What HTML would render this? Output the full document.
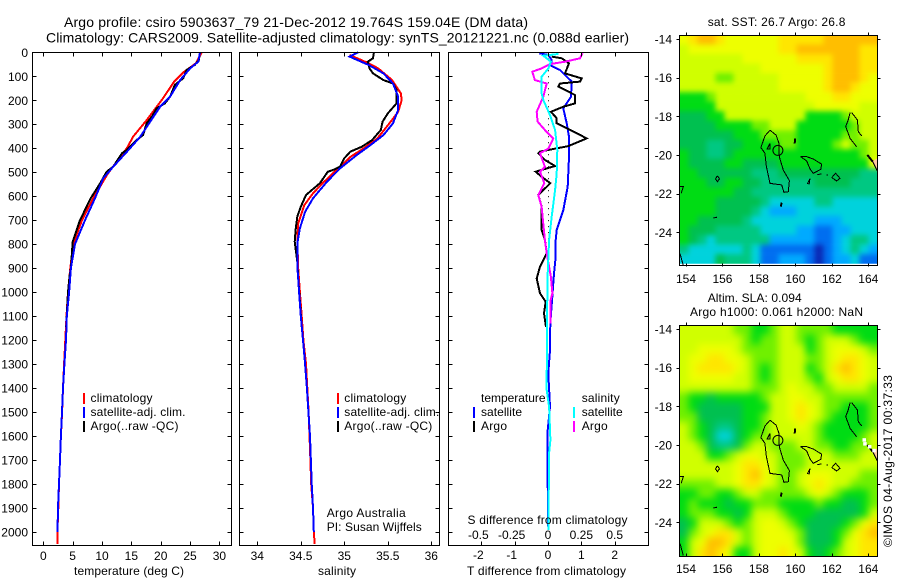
<!DOCTYPE html>
<html lang="en">
<head>
<meta charset="utf-8">
<title>Argo profile csiro 5903637_79</title>
<style>
html,body{margin:0;padding:0;background:#fff;}
svg{display:block;}
text{font-family:"Liberation Sans",sans-serif;font-size:12px;fill:#000;}
.title{font-size:14px;}
.frame{fill:none;stroke:#000;stroke-width:1;shape-rendering:crispEdges;}
</style>
</head>
<body>
<svg id="chart" xmlns="http://www.w3.org/2000/svg" width="900" height="580" viewBox="0 0 900 580">
  <defs>
    <filter id="sstSmooth" color-interpolation-filters="sRGB"><feGaussianBlur stdDeviation="2.6"/></filter>
    <filter id="slaSmooth" color-interpolation-filters="sRGB"><feGaussianBlur stdDeviation="4"/></filter>
    <clipPath id="map1Clip"><rect x="679.5" y="35.5" width="198" height="228.2"/></clipPath>
    <clipPath id="map2Clip"><rect x="679.5" y="325.5" width="198" height="231"/></clipPath>
  </defs>
  <rect x="0" y="0" width="900" height="580" fill="#fff"/>
  <text class="title" x="64" y="27" textLength="464">Argo profile: csiro 5903637_79 21-Dec-2012 19.764S 159.04E (DM data)</text>
  <text class="title" x="46" y="42.5" textLength="583">Climatology: CARS2009. Satellite-adjusted climatology: synTS_20121221.nc (0.088d earlier)</text>

  <g id="map1"></g>
  <g id="map2"></g>
  <g id="p1"></g>
  <g id="p2"></g>
  <g id="p3"></g>

  <rect class="frame" x="32.5" y="52.5" width="199" height="493"/>
  <rect class="frame" x="239.5" y="52.5" width="200" height="493"/>
  <rect class="frame" x="448.5" y="52.5" width="200" height="493"/>
  <rect class="frame" x="679.5" y="35.5" width="198" height="230"/>
  <rect class="frame" x="679.5" y="325.5" width="198" height="231"/>

  <text x="74" y="575" textLength="110">temperature (deg C)</text>
  <text x="318" y="575" textLength="38">salinity</text>
  <text x="467.5" y="524" textLength="160">S difference from climatology</text>
  <text x="467" y="575" textLength="159">T difference from climatology</text>

  <g>
    <rect x="83" y="393" width="2" height="11" fill="#f00"/>
    <text x="90.5" y="402" textLength="62">climatology</text>
    <rect x="83" y="407" width="2" height="11" fill="#00f"/>
    <text x="90.5" y="416" textLength="95">satellite-adj. clim.</text>
    <rect x="83" y="421" width="2" height="11" fill="#000"/>
    <text x="90.5" y="430" textLength="88">Argo(..raw -QC)</text>
  </g>
  <g>
    <rect x="337" y="393" width="2" height="11" fill="#f00"/>
    <text x="344.3" y="402" textLength="62">climatology</text>
    <rect x="337" y="407" width="2" height="11" fill="#00f"/>
    <text x="344.3" y="416" textLength="95">satellite-adj. clim.</text>
    <rect x="337" y="421" width="2" height="11" fill="#000"/>
    <text x="344.3" y="430" textLength="88">Argo(..raw -QC)</text>
  </g>
  <text x="326.7" y="517" textLength="79">Argo Australia</text>
  <text x="326.7" y="531" textLength="95">PI: Susan Wijffels</text>

  <g>
    <text x="481" y="402" textLength="64.5">temperature</text>
    <text x="581.7" y="402" textLength="38">salinity</text>
    <rect x="473" y="407" width="2" height="11" fill="#00f"/>
    <text x="481" y="416" textLength="41">satellite</text>
    <rect x="573" y="407" width="2" height="11" fill="#0ff"/>
    <text x="581.7" y="416" textLength="41">satellite</text>
    <rect x="473" y="421" width="2" height="11" fill="#000"/>
    <text x="481" y="430" textLength="26">Argo</text>
    <rect x="573" y="421" width="2" height="11" fill="#f0f"/>
    <text x="581.7" y="430" textLength="26">Argo</text>
  </g>

  <text x="707.7" y="26" textLength="137.7">sat. SST: 26.7 Argo: 26.8</text>
  <text x="707.7" y="302" textLength="94">Altim. SLA: 0.094</text>
  <text x="690" y="316" textLength="173">Argo h1000: 0.061 h2000: NaN</text>
  <text transform="translate(892,547) rotate(-90)" x="0" y="0" textLength="172">©IMOS 04-Aug-2017 00:37:33</text>
</svg>

<script>
/* ---------- profile data ---------- */
const depthTicks = [0,100,200,300,400,500,600,700,800,900,1000,1100,1200,1300,1400,1500,1600,1700,1800,1900,2000];
const tempTicks = [0,5,10,15,20,25,30];
const salTicks = [34,34.5,35,35.5,36];
const tDiffTicks = [-2,-1,0,1,2];
const sDiffTicks = [-0.5,-0.25,0,0.25,0.5];

const tempClimDepth = [0,46,81,122,192,283,352,401,505,609,700,800,900,1000,1100,1200,1300,1400,1500,1600,1700,1800,1900,2000,2050];
const tempClimValue = [27,26,24,22.3,20.4,17.6,15.3,14.2,11,8.5,6.6,5.1,4.6,4.2,3.95,3.75,3.55,3.36,3.2,3,2.85,2.67,2.56,2.4,2.4];
const tempSatDepth = [0,39,67,116,185,227,290,352,408,477,526,609,700,800,900,1000,1100,1200,1300,1400,1500,1600,1700,1800,1900,2000];
const tempSatValue = [26.7,26.4,25,23.3,21.6,19.9,18.2,16.5,14.5,11.9,10.2,8.8,7.1,5.4,4.7,4.4,4,3.87,3.6,3.36,3.18,3,2.84,2.67,2.5,2.42];
const tempArgoDepth = [0,32,53,74,108,136,185,213,234,269,296,345,366,408,421,477,498,547,609,700,790,900,930,1000,1145];
const tempArgoValue = [26.7,26.5,25.8,24.4,23.85,22.4,21.6,20.7,19.3,18.5,17.6,17,15.9,14.2,13.4,11.9,10.8,9.66,8.07,6.25,5,4.7,4.5,4.2,3.9];

const salClimDepth = [11,46,67,116,171,199,248,282,359,401,436,491,546,588,637,713,783,900,1000,1100,1200,1300,1400,1500,1600,1700,1800,1900,2000,2050];
const salClimValue = [35.06,35.28,35.39,35.55,35.65,35.66,35.62,35.55,35.38,35.22,35.07,34.91,34.75,34.64,34.54,34.47,34.46,34.47,34.49,34.51,34.53,34.56,34.575,34.59,34.6,34.61,34.62,34.64,34.65,34.66];
const salSatDepth = [0,18,53,88,130,185,240,296,345,387,429,484,540,609,665,734,797,894,943,1000,1100,1200,1280,1400,1600,1800,1900,2000];
const salSatValue = [35.16,35.06,35.28,35.45,35.56,35.62,35.62,35.56,35.45,35.3,35.14,34.95,34.8,34.64,34.55,34.49,34.46,34.46,34.47,34.48,34.5,34.525,34.545,34.57,34.606,34.625,34.64,34.65];
const salArgoDepth = [1,25,39,67,88,116,130,157,213,255,289,324,366,394,414,442,477,491,498,546,595,644,685,741,790,873,943,1145];
const salArgoValue = [35.34,35.33,35.27,35.29,35.33,35.45,35.56,35.6,35.6,35.5,35.44,35.42,35.32,35.2,35.07,35,34.95,34.87,34.81,34.72,34.56,34.5,34.46,34.44,34.43,34.46,34.47,34.51];

const tDiffSatDepth = [4,11,32,57,74,122,185,234,296,352,436,560,658,741,783,852,922,1019,1130,1241,1339,1478,1575,1798,1992];
const tDiffSatValue = [-0.26,0.01,0.11,0.11,0.36,0.71,0.69,0.46,0.56,0.63,0.63,0.59,0.46,0.26,0.23,0.23,0.18,0.13,0.07,0.06,0.01,0.06,-0.01,-0.01,0.01];
const tDiffArgoDepth = [18,25,46,88,109,122,130,143,178,213,227,248,275,296,321,359,391,414,421,449,474,498,519,546,595,644,741,783,838,894,943,1005,1040,1089,1145];
const tDiffArgoValue = [0.11,0.41,0.63,0.51,1.01,0.96,0.36,0.31,0.81,0.81,0.46,0.09,0.26,0.26,0.63,1.16,0.61,-0.24,-0.29,-0.09,0.21,-0.37,-0.19,0.07,-0.29,-0.19,-0.19,-0.09,-0.04,-0.24,-0.34,-0.24,-0.07,-0.12,-0.06];
const sDiffSatDepth = [7,14,39,67,102,171,199,262,324,408,505,574,685,783,922,1130,1408,1478,1617,1672,1992];
const sDiffSatValue = [0.078,-0.035,0.022,0.003,-0.048,-0.048,-0.035,0.015,0.053,0.07,0.065,0.053,0.028,0.008,-0.002,-0.008,-0.01,0.008,0.018,0.008,0.003];
const sDiffArgoDepth = [4,25,39,49,67,81,116,130,185,248,289,324,359,401,421,477,498,546,595,644,783,838,936,1005,1033,1130];
const sDiffArgoValue = [0.258,0.24,0.128,0.015,-0.048,-0.118,-0.098,-0.01,-0.035,-0.085,-0.078,-0.023,0.04,0.003,-0.06,-0.023,-0.06,-0.028,-0.073,-0.048,-0.023,-0.01,0.022,0.033,0.02,0.018];

/* ---------- map data: colour-level grids, top row first ---------- */
const lonTicks = [154,156,158,160,162,164];
const latTicks = [-14,-16,-18,-20,-22,-24];
const argoLon = 159.04;
const argoLat = -19.764;

const sstLevels = [
[9,10,11,11,10,9,9,9,9,9,9,10,10,10,10,10,11,11,11,11,11,11],
[8,9,9,9,9,9,9,9,9,9,9,10,10,11,11,11,11,11,11,11,10,10],
[8,8,8,8,8,8,8,9,9,9,9,9,9,10,10,10,10,11,11,11,10,10],
[8,8,8,8,8,8,8,8,8,9,9,9,9,9,9,9,10,11,11,11,10,10],
[8,8,8,8,7,7,8,8,8,8,8,9,9,9,9,9,10,11,11,11,10,9],
[8,8,8,8,8,8,8,8,8,8,8,9,9,9,9,9,10,11,11,10,9,9],
[6,6,6,7,8,8,8,8,8,8,8,8,8,8,9,9,9,10,10,9,9,9],
[6,6,6,6,8,8,8,8,8,8,8,8,8,8,8,9,9,9,9,9,8,8],
[5,5,5,6,6,8,8,8,8,8,8,8,8,8,6,6,6,6,7,8,8,8],
[5,5,5,5,6,6,6,6,7,7,8,8,8,6,6,6,6,6,6,7,8,8],
[5,5,5,5,5,5,6,6,6,7,7,7,7,6,6,6,6,6,7,7,8,8],
[5,5,5,4,4,5,5,6,6,6,6,7,7,6,6,6,6,7,8,7,7,8],
[6,5,5,4,4,5,6,6,6,6,6,6,6,6,6,6,6,6,6,6,7,8],
[6,5,5,5,5,6,6,5,5,5,5,6,6,6,6,6,6,6,6,6,6,9],
[6,6,5,5,5,5,5,5,4,4,4,5,5,5,5,5,5,5,5,5,4,4],
[6,6,6,5,5,6,6,5,5,4,4,4,4,4,4,5,5,5,5,4,4,4],
[6,6,6,6,6,6,5,5,4,4,4,4,4,4,4,4,4,4,4,4,4,4],
[6,6,6,6,5,5,5,5,5,4,3,3,3,3,3,4,4,3,3,3,3,3],
[6,6,6,6,5,5,5,5,4,3,2,2,2,3,3,3,3,3,3,3,3,3],
[6,6,5,5,5,5,5,4,3,3,3,3,3,3,3,2,2,2,3,3,3,3],
[6,5,5,5,4,4,4,4,4,3,3,3,3,2,2,1,1,2,2,3,3,3],
[6,5,4,3,4,4,4,4,4,4,2,2,2,2,2,1,1,2,3,4,4,3],
[4,3,3,3,3,3,3,4,3,1,1,1,1,1,1,0,1,2,3,4,3,2],
[3,3,3,3,5,4,4,4,3,1,1,2,2,2,1,0,1,2,2,3,1,1]
];
const slaLevels = [
[8,8,8,8,8,8,7,7,6,6,7,8,8,7,7,7,7,6,6,6,6,6],
[8,8,8,8,8,8,8,7,6,7,7,8,8,7,6,7,8,8,8,7,6,6],
[8,8,9,9,9,9,8,7,7,7,7,8,8,8,6,7,8,9,9,9,8,7],
[8,9,9,10,10,9,9,8,7,7,7,8,8,8,7,7,8,9,10,10,9,8],
[8,9,10,10,10,10,9,8,7,6,7,8,8,8,6,7,8,10,11,10,9,8],
[8,9,9,9,9,9,8,8,7,6,7,8,8,8,7,6,8,9,10,10,9,8],
[8,8,8,8,8,8,8,8,7,7,7,8,9,8,8,7,7,8,8,8,8,7],
[7,6,6,5,6,6,6,6,6,7,8,8,9,9,8,8,7,7,7,7,7,7],
[7,6,5,5,5,5,5,6,6,6,8,8,9,10,9,8,7,7,6,6,6,7],
[7,7,5,5,5,5,5,6,6,7,8,8,9,10,9,8,7,6,6,6,6,7],
[8,7,6,5,4,4,5,6,6,7,8,8,8,9,8,7,6,6,6,6,6,7],
[8,7,6,5,3,3,5,6,7,7,8,8,8,8,8,7,6,6,6,6,7,8],
[8,8,7,5,4,4,5,7,8,8,7,7,7,8,8,7,7,6,6,7,7,8],
[8,8,8,6,6,7,8,9,9,8,8,7,7,7,8,8,8,7,7,7,8,8],
[8,8,8,8,8,8,9,10,10,9,8,7,7,7,8,8,8,8,8,8,8,8],
[8,8,8,8,8,8,9,10,11,9,8,7,7,8,9,9,9,8,8,8,7,7],
[7,7,7,7,8,8,9,10,10,9,8,7,7,8,9,10,9,8,8,7,7,7],
[6,6,7,7,6,6,7,8,8,7,7,7,7,7,8,9,8,7,6,6,6,7],
[6,7,6,6,6,5,6,6,7,7,7,6,6,6,6,7,6,6,5,5,6,7],
[6,7,7,7,6,6,5,6,8,8,8,7,6,6,6,5,5,5,5,5,6,8],
[5,6,8,8,8,7,6,7,8,9,9,8,7,6,5,5,5,5,6,7,9,10],
[5,7,8,9,10,10,8,7,8,9,9,9,8,7,5,5,5,6,7,9,10,11],
[6,8,9,11,11,10,8,7,8,9,9,9,9,7,5,5,5,6,8,9,10,10],
[6,8,10,11,10,9,6,6,8,9,9,10,9,8,6,5,6,7,8,9,10,10]
];

const reefMain = [[158.61,-18.72],[158.33,-19.02],[158.11,-19.62],[158.33,-19.91],[158.41,-20.6],[158.61,-21.47],[159.25,-21.55],[159.37,-21.93],[159.61,-21.9],[159.67,-21.33],[159.34,-20.78],[159.12,-20.09],[159.1,-19.4],[158.94,-18.97],[158.61,-18.72]];
const reefLagoon = [[158.6,-19.4],[158.45,-19.7],[158.6,-19.7],[158.6,-19.4]];
const reefEast = [[160.29,-20.09],[160.62,-20.09],[160.98,-20.21],[161.44,-20.47],[161.4,-20.74],[160.98,-20.95],[160.8,-20.72],[160.62,-20.31],[160.29,-20.09]];
const reefSmall = [[160.8,-21.21],[160.67,-21.47],[160.76,-21.5],[160.8,-21.21]];
const reefRing = [[161.99,-21.17],[162.21,-20.95],[162.45,-21.21],[162.26,-21.34],[161.99,-21.17]];
const caledoniaWest = [[163,-17.81],[162.9,-18.19],[162.76,-18.53],[163,-19.14],[163.36,-19.57]];
const caledoniaEast = [[163.09,-17.81],[163.4,-18.19],[163.45,-18.79],[163.64,-19.02]];
const caledoniaTip = [[164.24,-20.34],[164.49,-20.81]];
const westBit = [[153.67,-21.64],[153.85,-21.64],[153.73,-21.98]];
const cornerBit = [[153.67,-25.09],[153.85,-25.72]];
const smallRing = [[155.72,-21.08],[155.84,-21.23],[155.72,-21.38],[155.62,-21.23],[155.72,-21.08]];
const dashBit = [[155.5,-23.26],[155.7,-23.22]];
const midBit = [[161.2,-21.02],[161.42,-20.98]];
const midDot = [[161.72,-21.05],[161.8,-21.02]];
const coastThin = [reefMain,reefLagoon,reefEast,reefSmall,reefRing,caledoniaWest,caledoniaEast,caledoniaTip,westBit,cornerBit,smallRing,dashBit,midBit,midDot];
const southBit = [[159.25,-22.47],[159.2,-22.67]];
const northBit = [[159.98,-19.14],[159.96,-19.4]];
const caledoniaThick = [[163.95,-20],[164.24,-20.34]];
const coastThick = [southBit,northBit,caledoniaThick];
const landPolygon = [[164.2,-20.34],[164.5,-20.17],[164.5,-20.81],[164.33,-20.55]];
const slaMissing = [[163.68,-19.65],[163.72,-19.85],[163.98,-20],[164.22,-20.2]];

/* ---------- axis functions ---------- */
const NS = 'http://www.w3.org/2000/svg';
const depthY = d => 52.3 + d * 0.2398;
const tempX = t => 43.3 + t * 5.87;
const salX = s => 257.3 + (s - 34) * 87;
const tDiffX = t => 548 + t * 33.33;
const sDiffX = s => 548 + s * 133.33;
const lonX = lon => 686 + (lon - 154) * 18.23;
const map1Y = lat => 39 + (-14 - lat) * 19.33;
const map2Y = lat => 329 + (-14 - lat) * 19.33;

const palette = ['#0a28b4','#006ef0','#00aaff','#00d2dc','#00c882','#00c050','#00dc14','#70f000','#d0ff00','#eeff00','#ffe600','#ffbe00','#ff9600'];

function make(tag, parent){
  const el = document.createElementNS(NS, tag);
  parent.appendChild(el);
  return el;
}

function drawSeries(parent, name, depths, values, xf, color, width){
  const el = make('polyline', parent);
  
  
  el.setAttribute('points', depths.map((d, i) => xf(values[i]).toFixed(1) + ',' + depthY(d).toFixed(1)).join(' '));
  el.setAttribute('fill', 'none');
  el.setAttribute('stroke', color);
  el.setAttribute('stroke-width', width);
  el.setAttribute('shape-rendering', 'crispEdges');
}

function tick(parent, x1, y1, x2, y2){
  const el = make('line', parent);
  
  
  el.setAttribute('x1', Math.round(x1) + 0.5);
  el.setAttribute('y1', Math.round(y1) + 0.5);
  el.setAttribute('x2', Math.round(x2) + 0.5);
  el.setAttribute('y2', Math.round(y2) + 0.5);
  el.setAttribute('stroke', '#000');
  el.setAttribute('shape-rendering', 'crispEdges');
}

function label(parent, str, x, y, anchor){
  const el = make('text', parent);
  
  
  el.setAttribute('x', x);
  el.setAttribute('y', y);
  el.setAttribute('text-anchor', anchor);
  el.textContent = str;
}

function panelTicks(parent, left, right, top, bottom, xf, xs, withDepthLabels){
  xs.forEach(v => {
    tick(parent, xf(v), top, xf(v), top + 4);
    tick(parent, xf(v), bottom, xf(v), bottom - 4);
  });
  depthTicks.forEach(d => {
    tick(parent, left, depthY(d), left + 4, depthY(d));
    tick(parent, right, depthY(d), right - 4, depthY(d));
    if (withDepthLabels) label(parent, String(d), 28, depthY(d) + 4.5, 'end');
  });
}

/* temperature panel */
const p1 = document.getElementById('p1');
drawSeries(p1, 'temperature-climatology-line', tempClimDepth, tempClimValue, tempX, '#f00', 2);
drawSeries(p1, 'temperature-argo-line', tempArgoDepth, tempArgoValue, tempX, '#000', 2);
drawSeries(p1, 'temperature-satellite-line', tempSatDepth, tempSatValue, tempX, '#00f', 2);
panelTicks(p1, 32, 231, 52, 545, tempX, tempTicks, true);
tempTicks.forEach(v => label(p1, String(v), tempX(v), 560, 'middle'));

/* salinity panel */
const p2 = document.getElementById('p2');
drawSeries(p2, 'salinity-climatology-line', salClimDepth, salClimValue, salX, '#f00', 2);
drawSeries(p2, 'salinity-argo-line', salArgoDepth, salArgoValue, salX, '#000', 2);
drawSeries(p2, 'salinity-satellite-line', salSatDepth, salSatValue, salX, '#00f', 2);
panelTicks(p2, 239, 439, 52, 545, salX, salTicks, false);
salTicks.forEach(v => label(p2, String(v), salX(v), 560, 'middle'));

/* difference panel */
const p3 = document.getElementById('p3');
depthTicks.slice(0, 9).forEach(d => {
  for (let k = 0; k < 4; k++) {
    const dot = make('rect', p3);
    
    
    dot.setAttribute('x', tDiffX(0));
    dot.setAttribute('y', depthY(d + k * 25));
    dot.setAttribute('width', 1);
    dot.setAttribute('height', 1);
    dot.setAttribute('fill', '#000');
  }
});
drawSeries(p3, 't-diff-satellite-line', tDiffSatDepth, tDiffSatValue, tDiffX, '#00f', 2);
drawSeries(p3, 't-diff-argo-line', tDiffArgoDepth, tDiffArgoValue, tDiffX, '#000', 2);
drawSeries(p3, 's-diff-argo-line', sDiffArgoDepth, sDiffArgoValue, sDiffX, '#f0f', 2);
drawSeries(p3, 's-diff-satellite-line', sDiffSatDepth, sDiffSatValue, sDiffX, '#0ff', 2);
panelTicks(p3, 448, 648, 52, 545, tDiffX, tDiffTicks, false);
tDiffTicks.forEach(v => label(p3, String(v), tDiffX(v) - (v < 0 ? 3 : 0), 559, 'middle'));
sDiffTicks.forEach(v => label(p3, String(v), sDiffX(v) - (v < 0 ? 3 : 0), 539, 'middle'));

/* maps */
function drawCoast(g, yf, line, width){
  const el = make('polyline', g);
  
  
  el.setAttribute('points', line.map(p => lonX(p[0]).toFixed(1) + ',' + yf(p[1]).toFixed(1)).join(' '));
  el.setAttribute('fill', 'none');
  el.setAttribute('stroke', '#000');
  el.setAttribute('stroke-width', width);
  el.setAttribute('shape-rendering', 'crispEdges');
}

function drawMap(id, levels, yf, gridTop, gridBottom, bottomLabelY, clipId, filterId){
  const g = document.getElementById(id);
  const clip = make('g', g);
  
  
  clip.setAttribute('clip-path', 'url(#' + clipId + ')');
  const field = make('g', clip);
  
  
  field.setAttribute('filter', 'url(#' + filterId + ')');
  const lonMin = 153.64, lonMax = 164.5;
  const rows = levels.length, cols = levels[0].length;
  const dLon = (lonMax - lonMin) / cols;
  const dLat = (gridTop - gridBottom) / rows;
  const bleed = 14;
  levels.forEach((row, r) => {
    row.forEach((v, c) => {
      const cell = make('rect', field);
      
      
      let x0 = lonX(lonMin + c * dLon), x1 = lonX(lonMin + (c + 1) * dLon);
      let y0 = yf(gridTop - r * dLat), y1 = yf(gridTop - (r + 1) * dLat);
      if (c === 0) x0 -= bleed;
      if (c === cols - 1) x1 += bleed;
      if (r === 0) y0 -= bleed;
      if (r === rows - 1) y1 += bleed;
      cell.setAttribute('x', x0.toFixed(2));
      cell.setAttribute('y', y0.toFixed(2));
      cell.setAttribute('width', (x1 - x0 + 0.3).toFixed(2));
      cell.setAttribute('height', (y1 - y0 + 0.3).toFixed(2));
      cell.setAttribute('fill', palette[v]);
    });
  });
  const land = make('polygon', clip);
  
  
  land.setAttribute('points', landPolygon.map(p => lonX(p[0]).toFixed(1) + ',' + yf(p[1]).toFixed(1)).join(' '));
  land.setAttribute('fill', '#ffc8a0');
  coastThin.forEach(line => drawCoast(g, yf, line, 1));
  coastThick.forEach(line => drawCoast(g, yf, line, 2));
  const circle = make('circle', g);
  
  
  circle.setAttribute('cx', lonX(argoLon).toFixed(1));
  circle.setAttribute('cy', yf(argoLat).toFixed(1));
  circle.setAttribute('r', 5);
  circle.setAttribute('fill', 'none');
  circle.setAttribute('stroke', '#000');
  const top = yf(-13.79), bottom = yf(-25.75);
  lonTicks.forEach(v => {
    tick(g, lonX(v), top, lonX(v), top - 3);
    tick(g, lonX(v), bottom, lonX(v), bottom - 3);
    label(g, String(v), lonX(v), bottomLabelY, 'middle');
  });
  latTicks.forEach(v => {
    tick(g, 679, yf(v), 676, yf(v));
    tick(g, 877, yf(v), 880, yf(v));
    label(g, String(v), 672, yf(v) + 4.5, 'end');
  });
}
drawMap('map1', sstLevels, map1Y, -13.79, -25.62, 283, 'map1Clip', 'sstSmooth');
drawMap('map2', slaLevels, map2Y, -13.79, -25.78, 573, 'map2Clip', 'slaSmooth');

const map2Group = document.getElementById('map2');
slaMissing.forEach(p => {
  const gap = make('rect', map2Group);
  
  
  gap.setAttribute('x', lonX(p[0]).toFixed(1));
  gap.setAttribute('y', map2Y(p[1]).toFixed(1));
  gap.setAttribute('width', 3.5);
  gap.setAttribute('height', 3.5);
  gap.setAttribute('fill', '#fff');
});
</script>
</body>
</html>
